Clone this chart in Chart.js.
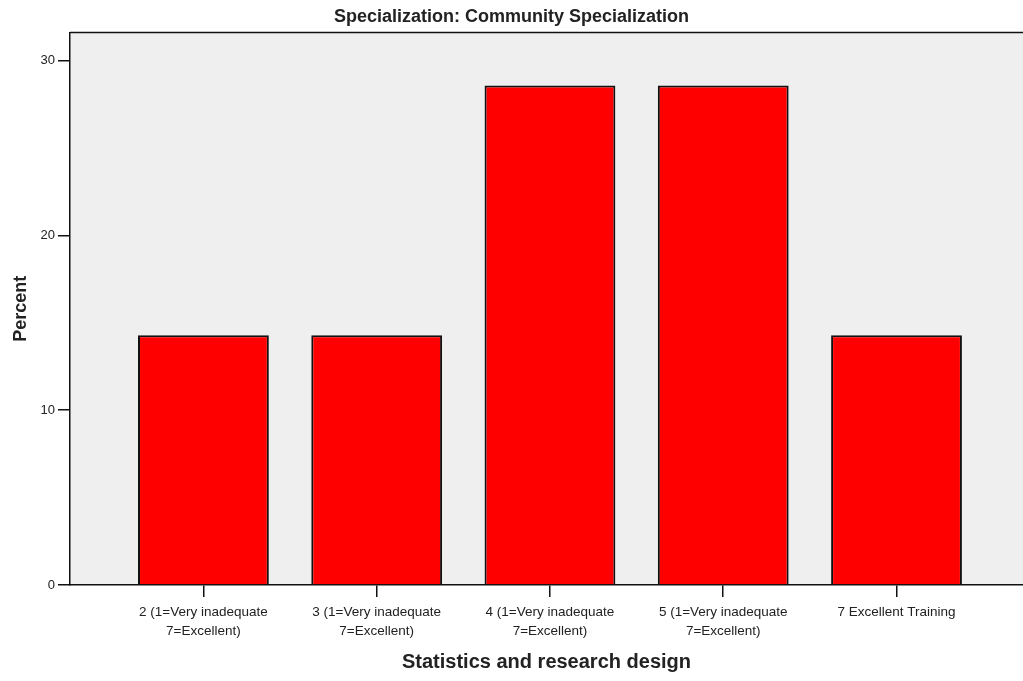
<!DOCTYPE html>
<html>
<head>
<meta charset="utf-8">
<script src="https://cdn.jsdelivr.net/npm/chart.js@4/dist/chart.umd.min.js"></script>
<style>
  html, body { margin: 0; padding: 0; background: #fff; }
  #wrap { width: 1023px; height: 681px; }
</style>
</head>
<body>
<div id="wrap"><canvas id="myChart" width="1023" height="681"></canvas></div>
<script>
// data
var categories = [
  ['2 (1=Very inadequate', '7=Excellent)'],
  ['3 (1=Very inadequate', '7=Excellent)'],
  ['4 (1=Very inadequate', '7=Excellent)'],
  ['5 (1=Very inadequate', '7=Excellent)'],
  '7 Excellent Training'
];
var percents = [14.29, 14.29, 28.57, 28.57, 14.29];
var yTicks = [0, 10, 20, 30];

var font = '"Liberation Sans", Arial, sans-serif';

var points = percents.map(function (v, i) { return { x: i, y: v }; });

// grey plot background + top border
var plotBox = {
  id: 'plotBox',
  beforeDraw: function (chart) {
    var a = chart.chartArea, c = chart.ctx;
    c.save();
    c.fillStyle = '#efefef';
    c.fillRect(a.left, a.top, a.right - a.left, a.bottom - a.top);
    c.strokeStyle = '#111';
    c.lineWidth = 1.5;
    c.beginPath();
    c.moveTo(a.left, a.top);
    c.lineTo(a.right, a.top);
    c.stroke();
    c.restore();
  }
};

var ctx = document.getElementById('myChart');
var myChart = new Chart(ctx, {
  type: 'bar',
  data: {
    datasets: [{
      label: 'Percent',
      data: points,
      backgroundColor: '#ff0000',
      borderColor: '#111',
      borderWidth: 2,
      barPercentage: 0.755,
      categoryPercentage: 1
    }]
  },
  options: {
    responsive: false,
    animation: false,
    plugins: {
      legend: { display: false },
      tooltip: { enabled: false },
      title: {
        display: true,
        text: 'Specialization: Community Specialization',
        color: '#222',
        font: { family: font, size: 18, weight: 'bold' },
        padding: { top: 6, bottom: 5 }
      }
    },
    scales: {
      x: {
        type: 'linear',
        offset: false,
        min: -0.77,
        max: 4.73,
        afterBuildTicks: function (s) { s.ticks = categories.map(function (c, i) { return { value: i }; }); },
        afterFit: function (s) { s.height = 96; },
        ticks: {
          autoSkip: false,
          maxRotation: 0,
          color: '#222',
          padding: 6,
          font: { family: font, size: 13.5, lineHeight: 1.4 },
          callback: function (v) { return categories[v]; }
        },
        grid: { offset: false, drawOnChartArea: false, drawTicks: true, tickLength: 12, color: '#111', lineWidth: 1.5 },
        border: { display: true, color: '#111', width: 1.5 },
        title: {
          display: true,
          text: 'Statistics and research design',
          color: '#222',
          font: { family: font, size: 20, weight: 'bold' },
          padding: { top: 0, bottom: 7 }
        }
      },
      y: {
        min: 0,
        max: 31.6,
        afterBuildTicks: function (s) { s.ticks = yTicks.map(function (v) { return { value: v }; }); },
        afterFit: function (s) { s.width = 70; },
        ticks: {
          color: '#222',
          padding: 3,
          font: { family: font, size: 13 }
        },
        grid: { drawOnChartArea: false, drawTicks: true, tickLength: 12, color: '#111', lineWidth: 1.5 },
        border: { display: true, color: '#111', width: 1.5 },
        title: {
          display: true,
          text: 'Percent',
          color: '#222',
          font: { family: font, size: 18, weight: 'bold' },
          padding: { top: 10, bottom: 0 }
        }
      }
    }
  },
  plugins: [plotBox]
});
</script>
</body>
</html>
